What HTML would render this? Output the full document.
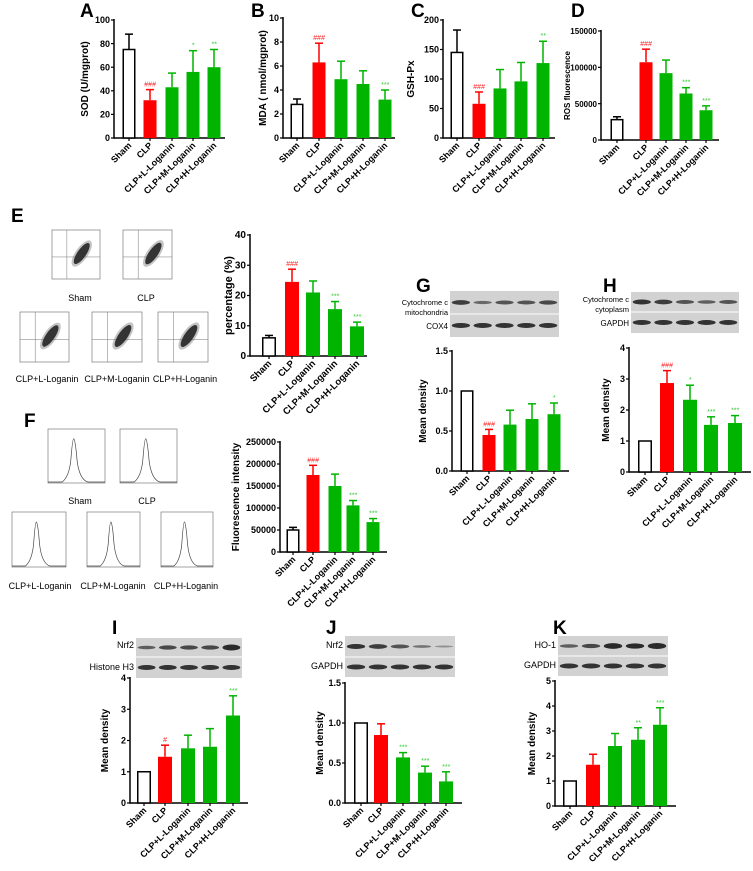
<!DOCTYPE html>
<html><head><meta charset="utf-8"><style>
body{margin:0;background:#fff}
svg{display:block;font-family:"Liberation Sans",Arial,sans-serif}
</style></head><body>
<svg id="fig" width="753" height="871" viewBox="0 0 753 871" xmlns="http://www.w3.org/2000/svg"></svg>
<script>
const groups = ["Sham","CLP","CLP+L-Loganin","CLP+M-Loganin","CLP+H-Loganin"];
const aVals=[75,32,43,56,60], aErrs=[13,9,12,18,15], aSig=["","###","","*","**"], aTicks=[0,20,40,60,80,100];
const bVals=[2.8,6.3,4.9,4.5,3.2], bErrs=[0.45,1.6,1.5,1.1,0.8], bSig=["","###","","","***"], bTicks=[0,2,4,6,8,10];
const cVals=[145,58,84,96,127], cErrs=[38,20,32,32,37], cSig=["","###","","","**"], cTicks=[0,50,100,150,200];
const dVals=[28000,107000,92000,64000,41000], dErrs=[4000,18000,18000,8000,6000], dSig=["","###","","***","***"], dTicks=[0,50000,100000,150000];
const eVals=[6,24.5,21,15.5,9.8], eErrs=[0.8,4.2,3.8,2.5,1.4], eSig=["","###","","***","***"], eTicks=[0,10,20,30,40];
const fVals=[50000,175000,150000,106000,68000], fErrs=[6000,22000,27000,11000,8000], fSig=["","###","","***","***"], fTicks=[0,50000,100000,150000,200000,250000];
const gVals=[1,0.45,0.58,0.65,0.71], gErrs=[0,0.07,0.18,0.19,0.14], gSig=["","###","","","*"], gTicks=["0.0","0.5","1.0","1.5"];
const hVals=[1,2.87,2.33,1.52,1.58], hErrs=[0,0.4,0.47,0.26,0.24], hSig=["","###","*","***","***"], hTicks=[0,1,2,3,4];
const iVals=[1,1.48,1.75,1.8,2.8], iErrs=[0,0.37,0.42,0.58,0.63], iSig=["","#","","","***"], iTicks=[0,1,2,3,4];
const jVals=[1,0.85,0.57,0.38,0.27], jErrs=[0,0.14,0.06,0.08,0.12], jSig=["","","***","***","***"], jTicks=["0.0","0.5","1.0","1.5"];
const kVals=[1,1.65,2.4,2.65,3.25], kErrs=[0,0.42,0.5,0.48,0.68], kSig=["","","","**","***"], kTicks=[0,1,2,3,4,5];

const NS="http://www.w3.org/2000/svg";
const svg=document.getElementById('fig');
function mk(tag,attrs,parent,text){const e=document.createElementNS(NS,tag);for(const k in attrs)e.setAttribute(k,attrs[k]);if(text!==undefined)e.textContent=text;(parent||svg).appendChild(e);return e;}
const FILL=["#fff","#ff0000","#00b400","#00b400","#00b400"];
const STROKE=["#000","#ff0000","#00b400","#00b400","#00b400"];
const SIGC=["#000","#ff2020","#33cc33","#33cc33","#33cc33"];

function chart(id,o,vals,errs,sig,ticks){
  const g=mk('g',{});
  
  
  const tmax=parseFloat(ticks[ticks.length-1]);
  const y=v=>o.y0-(v/tmax)*(o.y0-o.y1);
  const x=i=>o.cx[i];
  const bw=o.bw||13;
  const ax=mk('line',{x1:o.ax,y1:o.y1-1,x2:o.ax,y2:o.y0+0.75,stroke:'#000','stroke-width':1.5},g);
  
  const xa=mk('line',{x1:o.ax,y1:o.y0,x2:o.xend,y2:o.y0,stroke:'#000','stroke-width':1.5},g);
  
  ticks.forEach(t=>{const v=parseFloat(t);const yy=y(v);
    mk('line',{x1:o.ax-3,y1:yy,x2:o.ax,y2:yy,stroke:'#000','stroke-width':1.2},g);
    const tl=mk('text',{x:o.ax-4,y:yy+3.2,'text-anchor':'end','font-size':o.tf||9,'font-weight':'bold'},g,String(t));
    
  });
  const tt=mk('text',{x:o.tx,y:(o.y0+o.y1)/2,'text-anchor':'middle','font-size':o.tsz||10,'font-weight':'bold',transform:`rotate(-90 ${o.tx} ${(o.y0+o.y1)/2})`},g,o.title);
  
  vals.forEach((v,i)=>{
    const cx=x(i), top=y(v);
    const ey=y(v+errs[i]);
    if(errs[i]>0){
      mk('line',{x1:cx,y1:top,x2:cx,y2:ey,stroke:STROKE[i],'stroke-width':1.5},g);
      mk('line',{x1:cx-4,y1:ey,x2:cx+4,y2:ey,stroke:STROKE[i],'stroke-width':1.5},g);
    }
    const r=i==0?mk('rect',{x:cx-bw/2+0.75,y:top,width:bw-1.5,height:o.y0-top,fill:'#fff',stroke:'#000','stroke-width':1.5},g)
               :mk('rect',{x:cx-bw/2,y:top,width:bw,height:o.y0-top,fill:FILL[i]},g);
    
    mk('line',{x1:cx,y1:o.y0,x2:cx,y2:o.y0+3,stroke:'#000','stroke-width':1.2},g);
    if(sig[i]){const s=mk('text',{x:cx,y:(errs[i]>0?ey:top)-3,'text-anchor':'middle','font-size':7,'font-style':'italic',fill:SIGC[i]},g,sig[i]);
      }
    const lx=cx+3, ly=o.y0+8;
    const l=mk('text',{x:lx,y:ly,'text-anchor':'end','font-size':o.lf||9,'font-weight':'bold',transform:`rotate(-45 ${lx} ${ly})`},g,groups[i]);
    
  });
}
function letter(t,x,y){const e=mk('text',{x:x,y:y,'font-size':19,'font-weight':'bold'},svg,t);}

letter('A',80,17);letter('B',251,17);letter('C',411,17);letter('D',571,17);
chart('a',{ax:114,y0:138,y1:20,xend:225,cx:[129,150,172,193,214],tx:88,title:'SOD (U/mgprot)'},aVals,aErrs,aSig,aTicks);
chart('b',{ax:283,y0:138,y1:18,xend:395,cx:[297,319,341,363,385],tx:266,title:'MDA ( nmol/mgprot)'},bVals,bErrs,bSig,bTicks);
chart('c',{ax:443,y0:138,y1:20,xend:555,cx:[457,479,500,521,543],tx:414,title:'GSH-Px'},cVals,cErrs,cSig,cTicks);
chart('d',{ax:601,y0:140,y1:31,xend:719,cx:[617,646,666,686,706],tx:570,title:'ROS fluorescence',tsz:8,tf:8},dVals,dErrs,dSig,dTicks);

letter('E',11,222);
function flow(x0,y0,w,h,name){
  const g=mk('g',{});
  mk('rect',{x:x0,y:y0,width:w,height:h,fill:'#fff',stroke:'#666','stroke-width':0.6},g);
  mk('line',{x1:x0+w*0.31,y1:y0,x2:x0+w*0.31,y2:y0+h,stroke:'#777','stroke-width':0.5},g);
  mk('line',{x1:x0,y1:y0+h*0.55,x2:x0+w,y2:y0+h*0.55,stroke:'#777','stroke-width':0.5},g);
  const cx=x0+w*0.62,cy=y0+h*0.48;
  mk('ellipse',{cx:cx,cy:cy,rx:w*0.26,ry:w*0.09,fill:'#222',transform:`rotate(-55 ${cx} ${cy})`},g);
  mk('ellipse',{cx:cx,cy:cy,rx:w*0.32,ry:w*0.13,fill:'#555',opacity:0.35,transform:`rotate(-55 ${cx} ${cy})`},g);
}
function lbl(t,x,y,n){const e=mk('text',{x:x,y:y,'text-anchor':'middle','font-size':9},svg,t);}
flow(52,230,48,49,'flow-plot-sham');flow(123,230,49,49,'flow-plot-clp');
flow(20,312,49,50,'flow-plot-l');flow(92,312,50,50,'flow-plot-m');flow(158,312,50,50,'flow-plot-h');
lbl('Sham',80,301,'flow-label-sham');lbl('CLP',146,301,'flow-label-clp');
lbl('CLP+L-Loganin',47,382,'flow-label-l');lbl('CLP+M-Loganin',117,382,'flow-label-m');lbl('CLP+H-Loganin',185,382,'flow-label-h');
chart('e',{ax:250,y0:356,y1:235,xend:367,cx:[269,292,313,335,357],bw:14,tx:232,title:'percentage (%)',tsz:11,tf:10,lf:9.5},eVals,eErrs,eSig,eTicks);

letter('F',24,427);
function hist(x0,y0,w,h,name){
  const g=mk('g',{});
  mk('rect',{x:x0,y:y0,width:w,height:h,fill:'#fff',stroke:'#666','stroke-width':0.6},g);
  const px=x0+w*0.45,b=y0+h-1;
  mk('path',{d:`M${x0} ${b} L${px-w*0.2} ${b} Q${px-w*0.08} ${b-h*0.1} ${px-w*0.05} ${b-h*0.4} Q${px-w*0.02} ${y0+h*0.18} ${px} ${y0+h*0.18} Q${px+w*0.03} ${y0+h*0.2} ${px+w*0.06} ${b-h*0.4} Q${px+w*0.1} ${b-h*0.05} ${px+w*0.25} ${b} L${x0+w} ${b}`,fill:'none',stroke:'#444','stroke-width':0.7},g);
}
hist(48,429,57,54,'histogram-sham');hist(120,429,57,54,'histogram-clp');
hist(12,512,54,55,'histogram-l');hist(87,512,53,55,'histogram-m');hist(161,512,52,55,'histogram-h');
lbl('Sham',80,504,'hist-label-sham');lbl('CLP',147,504,'hist-label-clp');
lbl('CLP+L-Loganin',40,589,'hist-label-l');lbl('CLP+M-Loganin',113,589,'hist-label-m');lbl('CLP+H-Loganin',186,589,'hist-label-h');
chart('f',{ax:280,y0:552,y1:442,xend:387,cx:[293,313,335,353,373],bw:13,tx:239,title:'Fluorescence intensity'},fVals,fErrs,fSig,fTicks);

function blot(x0,x1,y0,ysplit,y1,rows,name,strength){
  const g=mk('g',{});
  mk('rect',{x:x0,y:y0,width:x1-x0,height:ysplit-y0-0.5,fill:'#d2d2d2'},g);
  mk('rect',{x:x0,y:ysplit+0.5,width:x1-x0,height:y1-ysplit-0.5,fill:'#d2d2d2'},g);
  const w=(x1-x0)/5;
  [[y0,ysplit,strength],[ysplit,y1,[1,1,1,1,1]]].forEach(([a,b,s])=>{
    for(let i=0;i<5;i++){const cx=x0+w*(i+0.5),cy=(a+b)/2;
      mk('ellipse',{cx:cx,cy:cy,rx:w*0.42,ry:1.8*s[i]+0.7,fill:'#2a2a2a',opacity:Math.min(1,0.3+0.65*s[i])},g);}
  });
  rows.forEach(r=>{const e=mk('text',{x:x0-2,y:r[1],'text-anchor':'end','font-size':r[2]||9},svg,r[0]);});
}
letter('G',416,292);letter('H',603,292);
blot(450,559,291,314,337,[['Cytochrome c',305,7.5],['mitochondria',315,7.5],['COX4',329,8]],'blot-g',[0.9,0.5,0.7,0.7,0.8]);
blot(631,739,292,312,333,[['Cytochrome c',302,7.5],['cytoplasm',312,7.5],['GAPDH',326,8]],'blot-h',[1,0.9,0.7,0.6,0.7]);
chart('g',{ax:452,y0:471,y1:351,xend:569,cx:[467,489,510,532,554],bw:13,tx:426,title:'Mean density'},gVals,gErrs,gSig,gTicks);
chart('h',{ax:629,y0:472,y1:348,xend:751,cx:[645,667,690,711,735],bw:14,tx:609,title:'Mean density'},hVals,hErrs,hSig,hTicks);

letter('I',112,634);letter('J',326,634);letter('K',553,634);
blot(136,242,638,657,678,[['Nrf2',648,9],['Histone H3',670,9]],'blot-i',[0.6,0.8,0.8,0.8,1.3]);
blot(345,455,636,657,677,[['Nrf2',648,9],['GAPDH',669,9]],'blot-j',[1,0.9,0.7,0.4,0.15]);
blot(558,668,636,656,676,[['HO-1',648,9],['GAPDH',668,9]],'blot-k',[0.6,0.8,1.2,1.1,1.3]);
chart('i',{ax:130,y0:803,y1:678,xend:248,cx:[144,165,188,210,233],bw:14,tx:108,title:'Mean density'},iVals,iErrs,iSig,iTicks);
chart('j',{ax:345,y0:803,y1:683,xend:462,cx:[361,381,403,425,446],bw:14,tx:323,title:'Mean density'},jVals,jErrs,jSig,jTicks);
chart('k',{ax:555,y0:806,y1:681,xend:676,cx:[570,593,615,638,660],bw:14,tx:535,title:'Mean density'},kVals,kErrs,kSig,kTicks);
</script>
</body></html>
